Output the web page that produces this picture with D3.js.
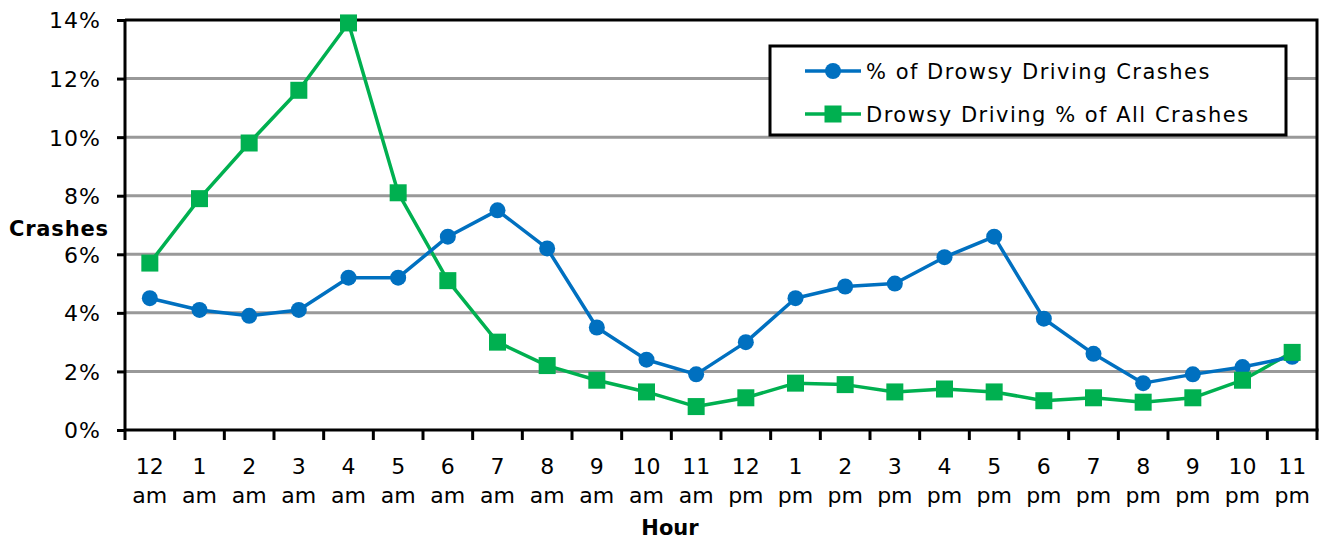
<!DOCTYPE html>
<html>
<head>
<meta charset="utf-8">
<script src="https://cdn.jsdelivr.net/npm/d3@7/dist/d3.min.js"></script>
<style>
  html, body { margin: 0; padding: 0; background: #fff; }
  svg { display: block; }
  text { font-family: "DejaVu Sans", sans-serif; fill: #000; }
</style>
</head>
<body>
<svg id="chart" width="1320" height="539"></svg>
<script>
// Hours of the day
const hours = ["12 am","1 am","2 am","3 am","4 am","5 am","6 am","7 am","8 am","9 am","10 am","11 am",
               "12 pm","1 pm","2 pm","3 pm","4 pm","5 pm","6 pm","7 pm","8 pm","9 pm","10 pm","11 pm"];

// Share of drowsy-driving crashes that occur in each hour (%)
const drowsyShare = [4.5, 4.1, 3.9, 4.1, 5.2, 5.2, 6.6, 7.5, 6.2, 3.5, 2.4, 1.9,
                     3.0, 4.5, 4.9, 5.0, 5.9, 6.6, 3.8, 2.6, 1.6, 1.9, 2.15, 2.5];

// Drowsy driving as a share of all crashes in each hour (%)
const drowsyOfAll = [5.7, 7.9, 9.8, 11.6, 13.9, 8.1, 5.1, 3.0, 2.2, 1.7, 1.3, 0.8,
                     1.1, 1.6, 1.55, 1.3, 1.4, 1.3, 1.0, 1.1, 0.95, 1.1, 1.7, 2.65];

const yTicks = [0, 2, 4, 6, 8, 10, 12, 14];

const seriesNames = ["% of Drowsy Driving Crashes", "Drowsy Driving % of All Crashes"];
const blue = "#0070C0", green = "#00B050";

const svg = d3.select("#chart");
const plotL = 125, plotR = 1317, plotT = 20, plotB = 430;

const x = d3.scaleBand().domain(hours).range([plotL, plotR]);
const y = d3.scaleLinear().domain([0, 14]).range([plotB, plotT]);
const xc = d => x(d) + x.bandwidth() / 2;

// Horizontal gridlines
svg.append("g")
  .selectAll("line")
  .data(yTicks.filter(t => t > 0 && t < 14))
  .join("line")
  .attr("x1", plotL).attr("x2", plotR)
  .attr("y1", d => y(d)).attr("y2", d => y(d))
  .attr("stroke", "#999").attr("stroke-width", 3);

// Plot frame (top and right)
svg.append("path")
  .attr("d", `M${plotL},${plotT}H${plotR}V${plotB}`)
  .attr("fill", "none").attr("stroke", "#000").attr("stroke-width", 3);

// Y axis
const yAxis = svg.append("g")
  .attr("transform", `translate(${plotL},0)`)
  .call(d3.axisLeft(y).tickValues(yTicks).tickFormat(d => d + "%").tickSize(8).tickPadding(16));
yAxis.select(".domain").attr("stroke-width", 3).attr("d", `M0,${plotT}V${plotB}`);
yAxis.selectAll(".tick line").attr("stroke-width", 3);
yAxis.selectAll(".tick text").style("font-size", "22px").style("font-family", "DejaVu Sans, sans-serif")
  .style("letter-spacing", "1px").attr("dy", "0.36em");

// X axis with ticks at the band boundaries
const xAxis = svg.append("g").attr("transform", `translate(0,${plotB})`);
xAxis.append("line").attr("x1", plotL).attr("x2", plotR + 1.5).attr("stroke", "#000").attr("stroke-width", 3);
xAxis.selectAll("line.tk")
  .data(hours.concat(["end"]))
  .join("line").attr("class", "tk")
  .attr("x1", (d, i) => i < hours.length ? x(d) : plotR)
  .attr("x2", (d, i) => i < hours.length ? x(d) : plotR)
  .attr("y1", 0).attr("y2", 10)
  .attr("stroke", "#000").attr("stroke-width", 3);

const xLabels = xAxis.selectAll("text.lbl")
  .data(hours)
  .join("text").attr("class", "lbl")
  .attr("text-anchor", "middle")
  .style("font-size", "22px");
xLabels.append("tspan").attr("x", d => xc(d)).attr("y", 44).text(d => d.split(" ")[0]);
xLabels.append("tspan").attr("x", d => xc(d)).attr("y", 73).text(d => d.split(" ")[1]);

// Axis titles
svg.append("text").attr("x", 670).attr("y", 535).attr("text-anchor", "middle")
  .style("font-size", "21px").style("font-weight", "bold").text("Hour");
svg.append("text").attr("x", 9).attr("y", 236)
  .style("font-size", "21px").style("font-weight", "bold").style("letter-spacing", "0.8px").text("Crashes");

// Series lines and markers
const line = d3.line().x((d, i) => xc(hours[i])).y(d => y(d));

svg.append("path").datum(drowsyOfAll).attr("d", line)
  .attr("fill", "none").attr("stroke", green).attr("stroke-width", 3.5).attr("stroke-linejoin", "round");
svg.append("path").datum(drowsyShare).attr("d", line)
  .attr("fill", "none").attr("stroke", blue).attr("stroke-width", 3.5).attr("stroke-linejoin", "round");

svg.append("g").selectAll("circle")
  .data(drowsyShare).join("circle")
  .attr("cx", (d, i) => xc(hours[i])).attr("cy", d => y(d)).attr("r", 8)
  .attr("fill", blue);

svg.append("g").selectAll("rect")
  .data(drowsyOfAll).join("rect")
  .attr("x", (d, i) => xc(hours[i]) - 8.5).attr("y", d => y(d) - 8.5)
  .attr("width", 17).attr("height", 17)
  .attr("fill", green);

// Legend
const lg = svg.append("g");
lg.append("rect").attr("x", 770).attr("y", 46).attr("width", 516).attr("height", 89)
  .attr("fill", "#fff").attr("stroke", "#000").attr("stroke-width", 3);
const items = [
  { name: seriesNames[0], color: blue, shape: "circle", y: 71 },
  { name: seriesNames[1], color: green, shape: "square", y: 114 }
];
items.forEach(it => {
  lg.append("line").attr("x1", 805).attr("x2", 861).attr("y1", it.y).attr("y2", it.y)
    .attr("stroke", it.color).attr("stroke-width", 3.5);
  if (it.shape === "circle") {
    lg.append("circle").attr("cx", 833).attr("cy", it.y).attr("r", 8).attr("fill", it.color);
  } else {
    lg.append("rect").attr("x", 824.5).attr("y", it.y - 8.5).attr("width", 17).attr("height", 17).attr("fill", it.color);
  }
  lg.append("text").attr("x", 866).attr("y", it.y).attr("dy", "0.36em")
    .style("font-size", "21px").style("letter-spacing", "1.5px").text(it.name);
});
</script>
</body>
</html>
